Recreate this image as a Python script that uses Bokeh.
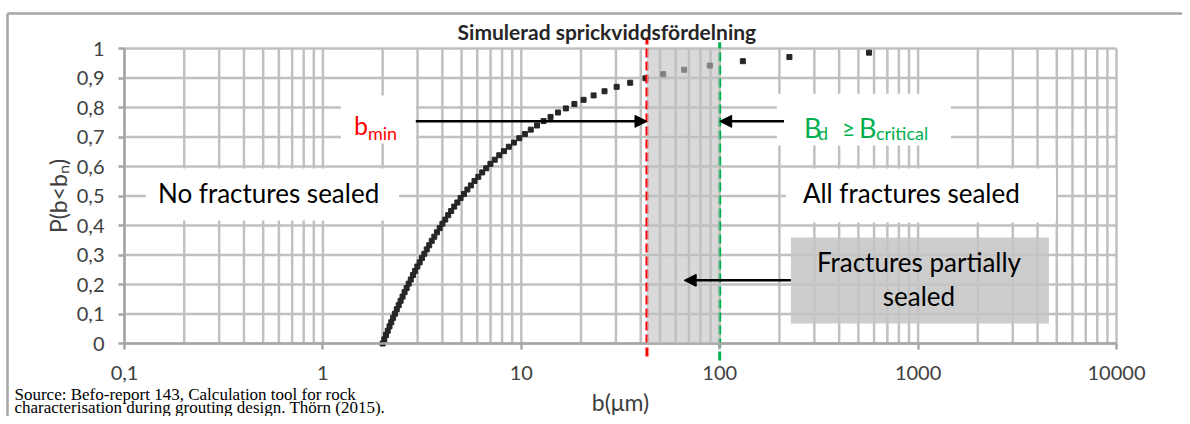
from bokeh.plotting import figure
from bokeh.models import (FixedTicker, CustomJSTickFormatter, Label, Arrow, NormalHead,
                          BoxAnnotation, Range1d, ColumnDataSource)
from bokeh.embed import file_html
from bokeh.resources import INLINE

# ---- data ----
b_um = [2.000, 2.039, 2.080, 2.122, 2.166, 2.211, 2.258, 2.307, 2.357, 2.410,
        2.464, 2.521, 2.580, 2.642, 2.706, 2.773, 2.843, 2.916, 2.993, 3.073,
        3.157, 3.245, 3.337, 3.434, 3.536, 3.644, 3.757, 3.877, 4.003, 4.137,
        4.280, 4.430, 4.591, 4.762, 4.944, 5.138, 5.348, 5.571, 5.812, 6.072,
        6.353, 6.657, 6.988, 7.348, 7.743, 8.175, 8.653, 9.182, 9.769, 10.43,
        11.16, 12.00, 12.95, 14.04, 15.30, 16.77, 18.52, 20.60, 23.14, 26.27,
        30.24, 35.38, 42.27, 51.91, 66.2, 89.2, 130.8, 224.6, 566.0]
p_cum = [0.000, 0.014, 0.029, 0.043, 0.058, 0.072, 0.087, 0.101, 0.116, 0.130,
         0.145, 0.159, 0.174, 0.188, 0.203, 0.217, 0.232, 0.246, 0.261, 0.275,
         0.290, 0.304, 0.319, 0.333, 0.348, 0.362, 0.377, 0.391, 0.406, 0.420,
         0.435, 0.449, 0.464, 0.478, 0.493, 0.507, 0.522, 0.536, 0.551, 0.565,
         0.580, 0.594, 0.609, 0.623, 0.638, 0.652, 0.667, 0.681, 0.696, 0.710,
         0.725, 0.739, 0.754, 0.768, 0.783, 0.797, 0.812, 0.826, 0.841, 0.855,
         0.870, 0.884, 0.899, 0.913, 0.928, 0.942, 0.957, 0.971, 0.986]
x_major_ticks = [0.1, 1, 10, 100, 1000, 10000]
y_ticks = [0.0, 0.1, 0.2, 0.3, 0.4, 0.5, 0.6, 0.7, 0.8, 0.9, 1.0]
b_min = 43
b_critical = 100

title = "Simulerad sprickviddsfördelning"
x_title = "b(μm)"
y_title = "P(b<bₙ)"
source_lines = ["Source: Befo-report 143, Calculation tool for rock",
                "characterisation during grouting design. Thörn (2015)."]

GRID = "#c0c0c0"
AXIS = "#a6a6a6"
FONT = "Lato"
RED = "#ff0000"
GREEN = "#00b050"

# ---- layout: the frame fills the whole canvas, the axes sit at fixed locations ----
W, H = 1182, 416
PLOT_LEFT, PLOT_BOTTOM = 124, 343       # pixel position of (0.1, 0)
PX_PER_DECADE, PX_PER_UNIT = 198.4, 295.0
X_MIN, X_MAX = x_major_ticks[0], x_major_ticks[-1]
x_range = Range1d(X_MIN * 10 ** (-PLOT_LEFT / PX_PER_DECADE),
                  X_MIN * 10 ** ((W - PLOT_LEFT) / PX_PER_DECADE))
y_range = Range1d(-(H - PLOT_BOTTOM) / PX_PER_UNIT, PLOT_BOTTOM / PX_PER_UNIT)

x_minor = [m * d for d in (0.1, 1, 10, 100, 1000) for m in range(2, 10)]

p = figure(width=W, height=H, x_axis_type="log", x_range=x_range, y_range=y_range,
           output_backend="svg", toolbar_location=None,
           min_border=0, title=None)
p.outline_line_color = None
p.background_fill_color = "white"
p.border_fill_color = "white"
p.grid.visible = False

p.xaxis.fixed_location = 0
p.yaxis.fixed_location = X_MIN
p.xaxis.bounds = (X_MIN, X_MAX)
p.yaxis.bounds = (0, 1)
p.xaxis.ticker = FixedTicker(ticks=x_major_ticks)
p.yaxis.ticker = FixedTicker(ticks=y_ticks)
p.xaxis.formatter = CustomJSTickFormatter(
    code='return tick < 1 ? tick.toString().replace(".", ",") : tick.toFixed(0);')
p.yaxis.formatter = CustomJSTickFormatter(
    code='if (tick == 0) return "0"; if (tick >= 1) return "1"; return tick.toFixed(1).replace(".", ",");')

for ax in (p.xaxis, p.yaxis):
    ax.axis_line_color = AXIS
    ax.axis_line_width = 2.5
    ax.major_tick_line_color = AXIS
    ax.major_tick_line_width = 2.5
    ax.major_tick_out = 6
    ax.major_tick_in = 0
    ax.minor_tick_line_color = None
    ax.major_label_text_font = FONT
    ax.major_label_text_font_size = "20px"
    ax.major_label_text_color = "#404040"
    ax.axis_label_text_font = FONT
    ax.axis_label_text_font_style = "normal"
    ax.axis_label_text_color = "#404040"
    ax.axis_label_text_font_size = "23px"
p.xaxis.axis_label = x_title
p.yaxis.axis_label = y_title
p.xaxis.major_label_standoff = 16
p.xaxis.axis_label_standoff = 5
p.yaxis.major_label_standoff = 14
p.yaxis.axis_label_standoff = 2

# grid lines at the axis ticks
vx = x_major_ticks + x_minor
p.segment(x0=vx, x1=vx, y0=[0] * len(vx), y1=[1] * len(vx),
          line_color=GRID, line_width=2.5)
p.segment(x0=[X_MIN] * len(y_ticks), x1=[X_MAX] * len(y_ticks), y0=y_ticks, y1=y_ticks,
          line_color=GRID, line_width=2.5)

# white text boxes hiding the grid
boxes = ColumnDataSource(dict(
    left=[1.232, 194.0, 0.128, 216.0],
    right=[2.943, 1463.0, 2.42, 4950.0],
    top=[0.841, 0.847, 0.593, 0.593],
    bottom=[0.678, 0.671, 0.417, 0.410]))
p.quad(left="left", right="right", top="top", bottom="bottom", source=boxes,
       fill_color="white", line_color=None)

# data points
p.scatter(b_um, p_cum, marker="square", size=5, fill_color="#262626",
          line_color="#262626")

# shaded range between b_min and B_critical
p.add_layout(BoxAnnotation(left=b_min, right=b_critical, top=1, bottom=0,
                           fill_color="#bfbfbf", fill_alpha=0.6, line_color=None))
# partially sealed box
p.add_layout(BoxAnnotation(left=228.5, right=4565, top=0.359, bottom=0.068,
                           fill_color="#c4c4c4", fill_alpha=0.85, line_color=None))

# dashed lines (reach slightly beyond the plot area)
p.segment(x0=[b_min], x1=[b_min], y0=[-0.044], y1=[1.037],
          line_color=RED, line_width=3, line_dash="9 4")
p.segment(x0=[b_critical], x1=[b_critical], y0=[-0.058], y1=[1.021],
          line_color=GREEN, line_width=3, line_dash="9 4")

# arrows
def head():
    return NormalHead(size=12, fill_color="black", line_color="black")

p.add_layout(Arrow(end=head(), x_start=2.94, y_start=0.753, x_end=b_min, y_end=0.753,
                   line_color="black", line_width=2.5))
p.add_layout(Arrow(end=head(), x_start=211, y_start=0.753, x_end=b_critical, y_end=0.753,
                   line_color="black", line_width=2.5))
p.add_layout(Arrow(end=head(), x_start=228.5, y_start=0.214, x_end=66.2, y_end=0.214,
                   line_color="black", line_width=2.5))

# outer chart frame (top and left edge)
p.segment(x0=[0.02572, 0.02572], x1=[x_range.end, 0.02572],
          y0=[1.1186, 1.1186], y1=[1.1186, y_range.start],
          line_color=AXIS, line_width=2.5)


def lab(x, y, text, size, color="black", align="left", baseline="alphabetic",
        font=FONT, style="normal"):
    p.add_layout(Label(x=x, y=y, text=text, text_font=font, text_font_size=size,
                       text_color=color, text_align=align, text_baseline=baseline,
                       text_font_style=style))


lab(27.0, 1.0576, title, "21px", color="#262626", align="center", baseline="middle",
    style="bold")
lab(0.1474, 0.5085, "No fractures sealed", "26px", baseline="middle")
lab(262.6, 0.5085, "All fractures sealed", "26px", baseline="middle")
lab(1010, 0.2746, "Fractures partially", "26px", align="center", baseline="middle")
lab(1010, 0.1627, "sealed", "26px", align="center", baseline="middle")

lab(1.433, 0.739, "b", "25px", color=RED)
lab(1.686, 0.712, "min", "18px", color=RED)
lab(265.7, 0.732, "B", "27px", color=GREEN)
lab(312.6, 0.715, "d", "18px", color=GREEN)
lab(413.0, 0.732, "≥", "23px", color=GREEN)
lab(503.0, 0.732, "B", "27px", color=GREEN)
lab(612.6, 0.712, "critical", "18px", color=GREEN)

lab(0.0279, -0.1729, source_lines[0], "17px", font="Liberation Serif")
lab(0.0279, -0.2169, source_lines[1], "17px", font="Liberation Serif")

open("out.html", "w").write(file_html(p, INLINE))
